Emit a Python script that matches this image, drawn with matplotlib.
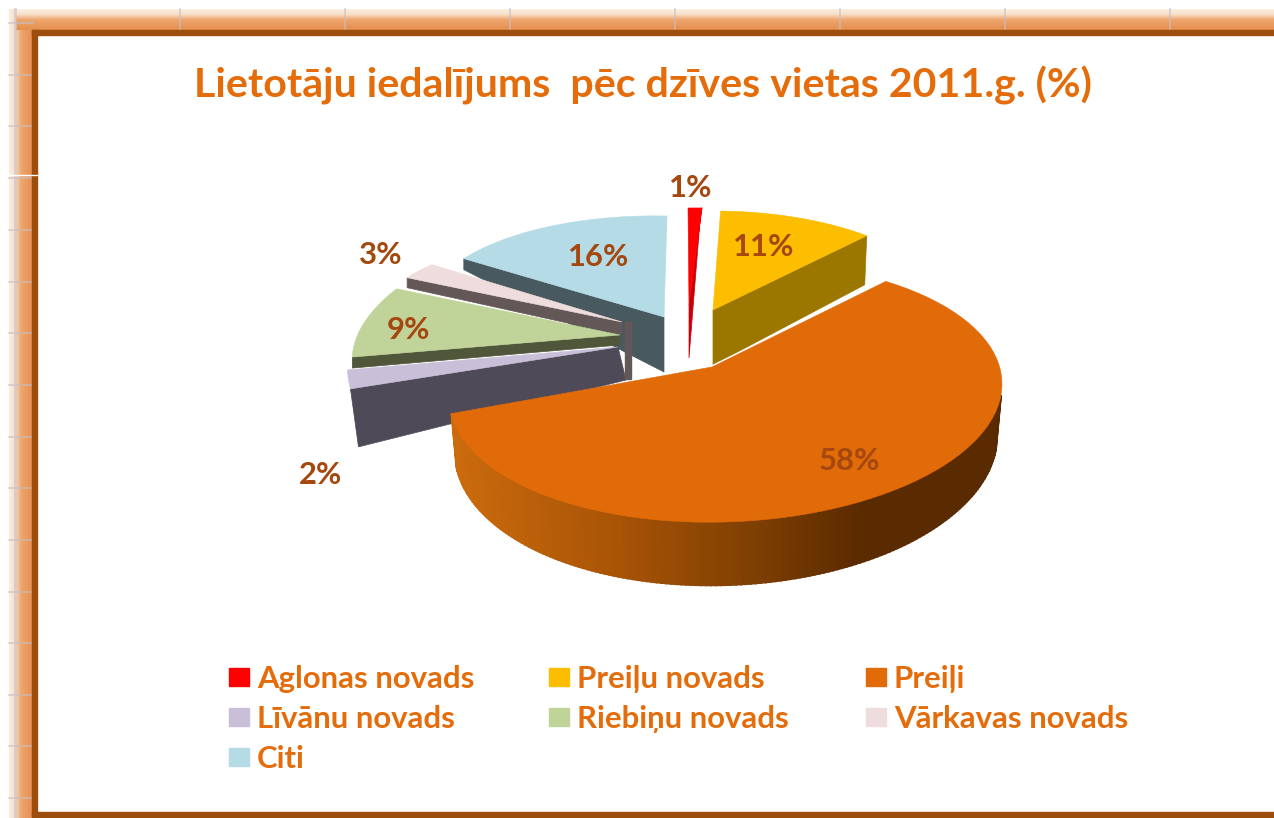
#!/usr/bin/env python3
"""Exploded 3D style pie of users by place of residence, 2011."""

import numpy as np
import matplotlib
matplotlib.use("Agg")
import matplotlib.pyplot as plt
from matplotlib.colors import LinearSegmentedColormap
from matplotlib.patches import Polygon, Rectangle

plt.rcParams['font.family'] = ['Lato', 'DejaVu Sans']

TITLE = "Lietotāju iedalījums  pēc dzīves vietas 2011.g. (%)"
names = ["Aglonas novads", "Preiļu novads", "Preiļi", "Līvānu novads",
         "Riebiņu novads", "Vārkavas novads", "Citi"]
values = [1, 11, 58, 2, 9, 3, 16]

top_colors = ["#ff0000", "#fdbd00", "#e16a09", "#c9bfd9",
              "#c0d49a", "#efdcdc", "#b5dbe6"]
wall_colors = ["#c80008", "#9b7700", "#5a2a00", "#4e4a58",
               "#4f563a", "#635857", "#48595f"]

# pixel layout of each slice: apex, rim centre, rim axes (a, b, d, e),
# angle warp (offset, scale), wall depth at rim and apex, wall shift at rim
geometry = [
    dict(apex=(689, 305), a=223, b=-1, d=-3, e=-97, rim=0, inner=53, shift=-1),
    dict(apex=(713, 310), a=232, b=-7, d=-3, e=-99, rim=49, inner=55, shift=-2),
    dict(apex=(712, 367), centre=(726, 392), a=276, b=0, d=-8, e=-130,
         warp=(-11.9, 1.0948)),
    dict(apex=(618, 347), a=267, b=44, d=6, e=-154, rim=58, inner=33, shift=8),
    dict(apex=(620, 335), a=262, b=55, d=1, e=-123, rim=11, inner=10, shift=0),
    dict(apex=(622, 322), a=241, b=25, d=14, e=-85, rim=10, inner=13, shift=0),
    dict(apex=(664, 317), a=239, b=3, d=5, e=-101, rim=11, inner=55, shift=0),
]
draw_order = [6, 5, 4, 3, 0, 1, 2]

label_pos = [(691, 188), (764, 247), (849, 461), (321, 475),
             (409, 330), (381, 255), (599, 257)]

legend_x = [229, 549, 866]
legend_y = [677, 717, 757]

grid_x = [180, 345, 510, 675, 840, 1005, 1170]
grid_y = [75, 126, 178, 230, 282, 333, 385, 437, 488, 540, 592, 643, 695, 746, 798]

ORANGE = "#e46c0a"
LABEL = "#a5480f"


def rim_point(geo, theta):
    """Screen position of the rim at angle theta (deg, clockwise from top)."""
    off, scale = geo.get('warp', (0, 1))
    phi = np.radians(off + scale * np.asarray(theta, dtype=float))
    cx, cy = geo.get('centre', geo['apex'])
    u, v = np.sin(phi), np.cos(phi)
    return cx + geo['a'] * u + geo['b'] * v, cy + geo['d'] * u + geo['e'] * v


def draw_frame(ax):
    fade = LinearSegmentedColormap.from_list(
        "fade", [(0, "#fbeee2"), (0.25, "#f8dfc9"), (0.5, "#eda76f"), (1, "#e68f4e")])
    ramp = np.linspace(0, 1, 64)
    ax.imshow(ramp[np.newaxis, :], extent=(9, 33, 818, 9), cmap=fade, aspect='auto', zorder=1)
    ax.imshow(ramp[:, np.newaxis], extent=(16, 1274, 30, 9), cmap=fade, aspect='auto', zorder=1)
    for x in grid_x:
        ax.plot([x, x], [9, 30], color="#c4bfc4", lw=1.2, alpha=0.7, zorder=2)
    for y in grid_y:
        ax.plot([9, 33], [y, y], color="#c4bfc4", lw=1.2, alpha=0.7, zorder=2)
    ax.plot([15, 15], [9, 818], color="#c8c6cc", lw=2, alpha=0.7, zorder=2)
    ax.plot([9, 33], [23, 23], color="#c4bfc4", lw=1.2, alpha=0.7, zorder=2)
    ax.plot([9, 37], [175, 175], color="white", lw=1, zorder=4)
    dark = "#9c4f0c"
    ax.add_patch(Rectangle((32, 30), 5, 787, color=dark, zorder=3))
    ax.add_patch(Rectangle((32, 30), 1242, 5, color=dark, zorder=3))
    ax.add_patch(Rectangle((32, 812), 1242, 5, color=dark, zorder=3))


def draw_outer_wall(ax, geo, start, end, zorder):
    """Curved front wall, shaded left to right in thin strips."""
    shade = LinearSegmentedColormap.from_list(
        "wall", [(0, "#cb6b0d"), (0.3, "#a85306"), (0.55, "#7e3f03"),
                 (0.75, "#5a2a00"), (1, "#5a2a00")])
    off, scale = geo['warp']
    cx = geo['centre'][0]
    thetas = np.linspace(max(start, (95 - off) / scale), end, 160)
    x, y = rim_point(geo, thetas)
    phi = np.radians(off + scale * thetas)
    depth = 52 + 11 * np.clip(-np.cos(phi), 0, 1)
    # the lower rim is a little narrower than the upper one
    low_x = x - (x - cx) * 0.018
    left, right = x.min(), x.max()
    for i in range(len(thetas) - 1):
        quad = [(x[i], y[i]), (x[i + 1], y[i + 1]),
                (low_x[i + 1], y[i + 1] + depth[i + 1]), (low_x[i], y[i] + depth[i])]
        frac = (0.5 * (x[i] + x[i + 1]) - left) / (right - left)
        col = shade(np.clip(frac, 0, 1))
        ax.add_patch(Polygon(quad, closed=True, fc=col, ec=col, lw=1.5, zorder=zorder))


def draw_slice(ax, i, start, end, zorder):
    geo = geometry[i]
    thetas = np.linspace(start, end, 80)
    x, y = rim_point(geo, thetas)
    ax_, ay = geo['apex']
    if 'rim' in geo:
        # flat cut wall: right half shows the closing edge, left half the opening one
        edge = end if 0.5 * (start + end) < 180 else start
        rx, ry = rim_point(geo, edge)
        quad = [(ax_, ay), (rx, ry), (rx + geo['shift'], ry + geo['rim']),
                (ax_ + (geo['shift'] > 0) * 8, ay + geo['inner'])]
        ax.add_patch(Polygon(quad, closed=True, fc=wall_colors[i], ec=wall_colors[i],
                             lw=0.5, zorder=zorder))
    else:
        draw_outer_wall(ax, geo, start, end, zorder)
    pts = np.column_stack([np.r_[ax_, x], np.r_[ay, y]])
    ax.add_patch(Polygon(pts, closed=True, fc=top_colors[i], ec=top_colors[i],
                         lw=0.4, zorder=zorder + 0.1))
    if 'warp' in geo:
        # thin light seam where the big slice meets the yellow one
        ax.plot([ax_, x[0]], [ay - 1, y[0] - 1], color="white", lw=1.2, zorder=zorder + 0.05)


def main():
    fig = plt.figure(figsize=(12.74, 8.18), dpi=100)
    ax = fig.add_axes([0, 0, 1, 1])
    draw_frame(ax)
    ax.set_xlim(0, 1274)
    ax.set_ylim(818, 0)
    ax.axis('off')

    ax.text(643, 85, TITLE, color=ORANGE, fontsize=29.6, fontweight='bold',
            ha='center', va='center', zorder=6)

    edges = np.r_[0, np.cumsum(values)] / np.sum(values) * 360.0
    for z, i in enumerate(draw_order):
        draw_slice(ax, i, edges[i], edges[i + 1], 3 + z * 0.2)
    # inner cut face behind the small slices
    px, py = geometry[5]['apex']
    ax.add_patch(Rectangle((px + 3, py), 6, 57, color=wall_colors[5], zorder=3.75))

    for i, pos in enumerate(label_pos):
        ax.text(pos[0], pos[1], f"{values[i]}%", color=LABEL, fontsize=22.3,
                fontweight='bold', ha='center', va='center', zorder=6)

    for i, name in enumerate(names):
        row, col = divmod(i, 3)
        ax.add_patch(Rectangle((legend_x[col], legend_y[row] - 9), 20, 18,
                               color=top_colors[i], zorder=5))
        ax.text(legend_x[col] + 28, legend_y[row] + 2, name, color=ORANGE, fontsize=22.4,
                fontweight='bold', ha='left', va='center', zorder=6)

    fig.savefig("out.png", dpi=100)


if __name__ == '__main__':
    main()
